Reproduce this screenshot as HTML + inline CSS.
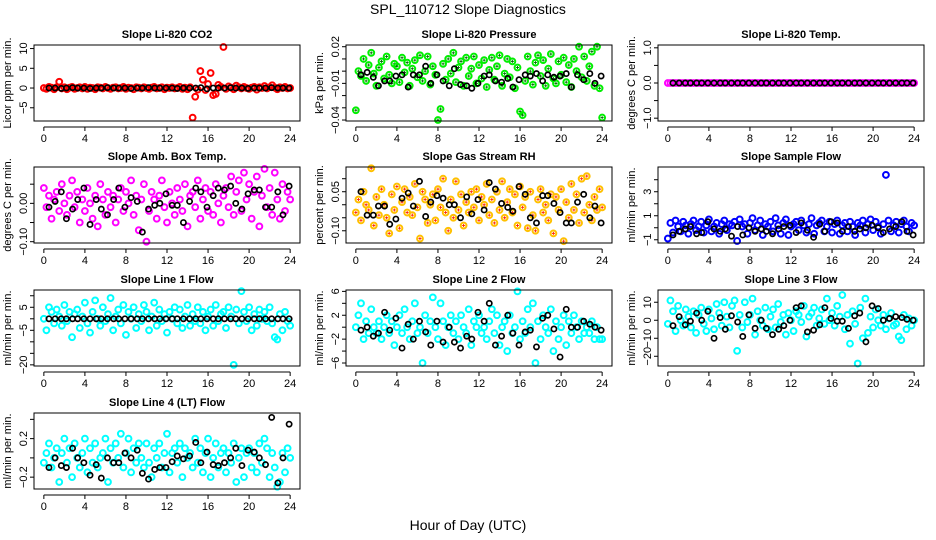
<!DOCTYPE html>
<html><head><meta charset="utf-8"><style>
html,body{margin:0;padding:0;background:#fff;}
svg{display:block;font-family:"Liberation Sans",sans-serif;}
</style></head><body>
<svg id="chart" width="936" height="540" viewBox="0 0 936 540">
<text x="468" y="14" font-size="14" text-anchor="middle">SPL_110712  Slope Diagnostics</text>
<text x="468" y="530" font-size="14" text-anchor="middle">Hour of Day (UTC)</text>
</svg>
<script>
const hours = [0,0.25,0.5,0.75,1,1.25,1.5,1.75,2,2.25,2.5,2.75,3,3.25,3.5,3.75,4,4.25,4.5,4.75,5,5.25,5.5,5.75,6,6.25,6.5,6.75,7,7.25,7.5,7.75,8,8.25,8.5,8.75,9,9.25,9.5,9.75,10,10.25,10.5,10.75,11,11.25,11.5,11.75,12,12.25,12.5,12.75,13,13.25,13.5,13.75,14,14.25,14.5,14.75,15,15.25,15.5,15.75,16,16.25,16.5,16.75,17,17.25,17.5,17.75,18,18.25,18.5,18.75,19,19.25,19.5,19.75,20,20.25,20.5,20.75,21,21.25,21.5,21.75,22,22.25,22.5,22.75,23,23.25,23.5,23.75,24];
const blackHours = [0.5,1.1,1.7,2.2,2.8,3.3,3.9,4.5,5.1,5.6,6.2,6.8,7.3,7.9,8.5,9.1,9.6,10.2,10.8,11.3,11.9,12.5,13.0,13.6,14.2,14.8,15.3,15.9,16.5,17.0,17.6,18.2,18.7,19.3,19.9,20.5,21.0,21.6,22.2,22.8,23.3,23.9];
const xTicks = [0,4,8,12,16,20,24];

const co2Vals = [0,-0.2,0.3,0.1,-0.3,0.2,1.6,-0.1,0.2,-0.3, 0.1,0.3,-0.2,0,0.2,-0.1,0.3,-0.2,0.1,0, -0.3,0.2,0.1,-0.1,0.3,0,-0.2,0.1,0.2,-0.1, 0,0.3,-0.2,0.1,0,-0.3,0.2,0.1,-0.1,0.2, 0,-0.2,0.1,0.3,-0.1,0,0.2,-0.3,0.1,0, 0.2,-0.1,0,0.3,-0.2,0.1,-0.3,0.2, -7.5,-2.2,-0.4,4.3,2.1,-0.5,1.0,3.8,-1.8,-1.5,0.8,0.3, 10.4,-0.2,0.4,0.1,-0.3,0.6,0.2,-0.1,0.3,0, -0.2,0.1,0.3,-0.4,0.2,0,0.5,-0.1,0.2,0.7, 0.1,-0.3,0.2,0,0.3,-0.1,0];
const co2Black = [0,0,-0.1,0,0.1,0,0,-0.1,0,0,0.1,0,0,0,-0.1,0,0,0.1,0,0,0,0,-0.1,0,0,0,0.1,-0.2,0,0,0,0.1,0,0,-0.1,0,0,0,0.1,0,0,0];
const pressureVals = [-32,0,-4,10,-8,5,15,-2,-12,3, 8,-6,12,-3,-10,6,4,-9,11,-1, 7,-12,2,9,-5,13,-8,0,12,-11, 4,-3,-40,-31,6,-7,10,-2,15,-9, 3,8,-12,11,-4,2,12,-10,5,-6, 9,-13,1,11,-7,4,13,-12,-2,10, -5,8,-14,3,-33,-36,-8,12,0,-11, 7,13,-4,9,-12,2,14,-6,-10,8, -3,11,-9,5,-13,10,0,20,-5,12, -8,4,16,-12,20,-14,-38].map(v => v / 1000);
const pressureBlack = [-3,-1,-5,-12,-8,-8,-4,-3,-13,-3,-3,4,-10,-3,-8,-12,2,-11,-12,-14,-10,-4,-3,-8,-9,-6,-13,-7,-3,-4,-2,-8,-3,-5,-4,-2,-13,-3,-7,-2,-10,-4].map(v => v / 1000);
const tempVals = [0,0,0,0,0,0,0,0,0,0,0,0,0,0,0,0,0,0,0,0,0,0,0,0,0,0,0,0,0,0,0,0,0,0,0,0,0,0,0,0,0,0,0,0,0,0,0,0,0,0,0,0,0,0,0,0,0,0,0,0,0,0,0,0,0,0,0,0,0,0,0,0,0,0,0,0,0,0,0,0,0,0,0,0,0,0,0,0,0,0,0,0,0,0,0,0,0];
const tempBlack = [0,0,0,0,0,0,0,0,0,0,0,0,0,0,0,0,0,0,0,0,0,0,0,0,0,0,0,0,0,0,0,0,0,0,0,0,0,0,0,0,0,0];
const ambVals = [40,-10,20,-40,10,30,-20,50,0,-30, 20,60,-10,30,-50,10,-20,40,0,-40, 20,-60,50,10,-30,30,-10,20,-50,10, 40,-20,30,0,60,-30,20,-70,10,50, -100,-20,30,10,-40,20,60,-10,-50,30, 0,-30,40,10,-20,50,-60,20,30,-10, 60,-40,10,40,-20,30,-30,50,0,-50, 20,40,-10,70,-30,30,60,-20,80,10, 50,-40,30,70,-60,20,90,-10,40,-30, 80,10,-40,50,-20,30,10].map(v => v / 1000);
const ambBlack = [-10,5,30,-40,-15,10,40,-55,10,-15,-30,10,40,-10,15,5,-75,-15,-5,0,25,-5,-5,-50,5,40,30,-10,20,40,35,45,0,-15,25,35,35,-10,-10,30,-30,45].map(v => v / 1000);
const rhVals = [-30,20,-60,50,0,-20,140,-80,30,-40, 60,0,-50,-110,40,-20,70,-90,10,60, -30,30,-40,80,-10,-130,50,20,-70,0, 40,-60,60,-10,100,-30,-100,20,-50,90, -20,40,-80,10,-30,50,-10,60,-60,30, 0,80,-40,20,-70,50,-20,90,-50,10, 60,-30,40,-80,70,-10,30,-90,50,-40, -100,20,60,-30,0,-60,40,-110,30,-20, 60,-140,10,-50,80,-20,40,-70,100,-30, 110,0,-60,30,-20,60,-10].map(v => v / 1000);
const rhBlack = [50,-40,-40,-5,-5,-75,-55,25,45,-5,90,-45,10,35,25,0,0,-50,30,-35,20,-20,85,60,5,-10,-25,70,40,-50,-70,35,35,5,-30,-70,-70,10,40,-50,-5,-70].map(v => v / 1000);
const sampleVals = [-0.9,0.4,-0.4,0.6,0.1,-0.3,0.5,0.2,-0.5,0.3, 0.6,-0.2,0.1,0.5,-0.4,0.2,0.7,-0.3,0.1,0.4, -0.5,0.3,0.6,-0.2,0.3,0.2,0.5,-1.1,0.7,0.1, 0.3,-0.5,0.4,0.8,-0.2,0.2,0.6,-0.6,0.3,0.1, 0.5,-0.3,0.8,0.2,-0.5,0.4,0.7,-0.6,0.1,0.3, 0.5,-0.2,0.6,0.2,-0.4,0.3,0.8,-0.5,0.2,0.4, 0.6,-0.3,0.1,0.5,-0.4,0.3,0.6,-0.5,0.2,0.4, -0.3,0.5,0.1,-0.6,0.4,0.2,0.6,-0.4,0.3,0.7, -0.2,0.5,0.1,-0.5,0.3,4.4,0.6,-0.3,0.2,0.5, -0.4,0.3,0.6,0.1,-0.3,0.4,0.2];
const sampleBlack = [-0.6,-0.3,-0.1,0.1,-0.5,-0.4,0.5,-0.1,-0.3,-0.1,-0.7,0.1,-0.6,0,-0.3,-0.1,-0.3,-0.5,-0.1,0.1,0.2,-0.4,0.4,-0.2,-0.8,0.3,-0.3,0.5,0.4,-0.3,0.1,-0.3,-0.1,0,0.2,0,-0.4,-0.1,0.1,0.5,-0.3,-0.6];
const line1Vals = [0,-5,5,3,-2,4,1,-3,6,-1, 3,-8,2,4,-4,1,7,-2,-6,3, 8,0,-3,5,-1,2,9,-5,1,4, -2,6,-7,3,0,5,-4,2,-1,6, 3,-5,1,7,-3,4,-1,2,-6,3, 0,5,-2,4,-4,1,6,-3,2,-1, 5,-2,3,-5,1,4,-3,6,-1,2, 3,-4,5,1,-20,4,-2,12,3,-1, 5,-5,2,-3,4,0,3,-1,5,-2, -8,-9,2,-5,3,-1,-3];
const line1Black = [0,0,0,0,0,0,0,0,0,0,0,0,0,0,0,0,0,0,0,0,0,0,0,0,0,0,0,0,0,0,0,0,0,0,0,0,0,0,0,0,0,0];
const line2Vals = [0,2,4,-2,1,-1,3,0,-1,1, -2,0,2,-1,1,-3,0,2,-1,3, 0,-2,1,4,-1,0,-6,2,-1,1, 5,0,-2,4,1,-3,0,2,-1,1, -2,2,0,-1,3,-3,1,0,2,-1, 0,-2,1,3,-1,2,-3,0,1,-4, 2,-1,0,6,-2,1,-1,3,0,4, -6,1,-2,2,0,-1,3,-4,1,-2, 0,2,-3,1,-1,2,0,-2,1,-1, 0,-1,1,-2,0,-2,-2];
const line2Black = [-0.5,0,-1.5,-1,2.5,-0.5,1.5,-3.5,0.5,-2,1,-0.8,-3,1,-2.5,0,-2.5,-3.5,-1.5,-2,2.5,1,4,-3,-1.5,2,-1,-3,-0.8,-0.5,-3.3,1.5,2,-0.3,-5,3,0,0,1,0.5,0,-0.5];
const line3Vals = [-2,11,5,-6,8,0,-3,6,2,-4, 5,-7,3,7,-2,-6,6,1,-5,9, 4,-3,10,2,-4,8,11,-17,3,-4, 10,-1,3,12,-8,5,0,-3,7,-5, 2,6,-4,9,-1,3,-8,4,0,-6, 5,3,-1,8,-9,2,4,7,-3,1, 6,-2,12,0,4,-3,8,2,14,-5, 3,-13,5,-2,-24,7,-10,12,-7,2, -4,6,0,-3,3,-5,1,4,-3,-2, -9,-11,3,-5,1,-3,0];
const line3Black = [-3,2,-2.5,-0.5,4,0,5,-10,1.5,-5,2.5,-1,-9,3,-4.5,0,-4.5,-8,-5,-3,0,7,8,-6.5,-5.5,-2.5,7,1,-0.5,-0.5,-4.5,2.5,4,-12,8,6.5,0,1,2,1.5,0.5,0];
const line4Vals = [-5,5,15,-10,0,10,-25,5,20,-5, 10,-20,15,0,-10,5,20,-15,10,-5, 15,-10,0,5,20,-25,10,-5,15,0, 25,-10,5,20,-15,10,-5,15,0,-10, 15,-5,-20,10,0,15,-10,5,25,-15, 5,10,-5,15,-20,10,0,5,-10,20, -5,10,-15,5,20,-20,0,15,-10,5, 10,-15,5,-5,15,-25,0,10,-20,5, 10,-10,5,-15,15,-5,20,10,-20,5, -10,-30,-25,5,-15,10,0].map(v => v / 100);
const line4Black = [-10,0,-8,-10,10,0,-5,-18,-7,-21,0,-5,-5,5,0,8,-16,-22,-12,-10,-10,-4,2,-1,2,16,-5,6,-7,-8,-5,0,10,-8,8,6,0,-7,42,-26,0,35].map(v => v / 100);

const panels = [
 {id:'co2', title:'Slope Li-820 CO2', ylab:'Licor ppm per min.', ylim:[-8.35,10.9], yTicks:[-5,0,5,10], yTickLabels:['−5','0','5','10'], vals:co2Vals, blk:co2Black, color:'#ff0000', plus:null},
 {id:'pressure', title:'Slope Li-820 Pressure', ylab:'kPa per min.', ylim:[-0.0408,0.0214], yTicks:[-0.04,-0.03,-0.02,-0.01,0,0.01,0.02], yTickLabels:['−0.04','','','−0.01','','','0.02'], vals:pressureVals, blk:pressureBlack, color:'#00ee00', plus:'#006600'},
 {id:'temp', title:'Slope Li-820 Temp.', ylab:'degrees C per min.', ylim:[-1.08,1.08], yTicks:[-1,-0.5,0,0.5,1], yTickLabels:['−1.0','','0.0','','1.0'], vals:tempVals, blk:tempBlack, color:'#ff00ff', plus:null},
 {id:'ambtemp', title:'Slope Amb. Box Temp.', ylab:'degrees C per min.', ylim:[-0.1034,0.0948], yTicks:[-0.1,-0.05,0,0.05], yTickLabels:['−0.10','','0.00',''], vals:ambVals, blk:ambBlack, color:'#ff00ff', plus:null},
 {id:'rh', title:'Slope Gas Stream RH', ylab:'percent per min.', ylim:[-0.147,0.145], yTicks:[-0.1,-0.05,0,0.05,0.1], yTickLabels:['−0.10','','','0.05',''], vals:rhVals, blk:rhBlack, color:'#ffc000', plus:'#ff2000'},
 {id:'sampleflow', title:'Slope Sample Flow', ylab:'ml/min per min.', ylim:[-1.27,5.06], yTicks:[-1,0,1,2,3,4], yTickLabels:['−1','','1','','3',''], vals:sampleVals, blk:sampleBlack, color:'#0000ff', plus:null},
 {id:'line1', title:'Slope Line 1 Flow', ylab:'ml/min per min.', ylim:[-20.5,12.5], yTicks:[-20,-15,-10,-5,0,5,10], yTickLabels:['−20','','','−5','','5',''], vals:line1Vals, blk:line1Black, color:'#00ffff', plus:null},
 {id:'line2', title:'Slope Line 2 Flow', ylab:'ml/min per min.', ylim:[-6.5,6.23], yTicks:[-6,-4,-2,0,2,4,6], yTickLabels:['−6','','−2','','2','','6'], vals:line2Vals, blk:line2Black, color:'#00ffff', plus:null},
 {id:'line3', title:'Slope Line 3 Flow', ylab:'ml/min per min.', ylim:[-25.4,16.8], yTicks:[-20,-10,0,10], yTickLabels:['−20','−10','0','10'], vals:line3Vals, blk:line3Black, color:'#00ffff', plus:null},
 {id:'line4', title:'Slope Line 4 (LT) Flow', ylab:'ml/min per min.', ylim:[-0.323,0.466], yTicks:[-0.2,0,0.2,0.4], yTickLabels:['−0.2','','0.2',''], vals:line4Vals, blk:line4Black, color:'#00ffff', plus:null}
];

const NS = 'http://www.w3.org/2000/svg';
const svg = document.getElementById('chart');
const colLeft = [34,346,658];
const rowTop = [45,167,290,413];
const W = 266, H = 76;
const XMIN = -0.96, XMAX = 24.96;

function mk(tag, attrs, parent) {
  const e = document.createElementNS(NS, tag);
  for (const k in attrs) e.setAttribute(k, attrs[k]);
  parent.appendChild(e);
  return e;
}

panels.forEach((p, idx) => {
  const x0 = colLeft[idx % 3], y0 = rowTop[Math.floor(idx / 3)];
  const g = mk('g', {}, svg);
  
  
  const xs = v => x0 + (v - XMIN) / (XMAX - XMIN) * W;
  const ys = v => y0 + H - (v - p.ylim[0]) / (p.ylim[1] - p.ylim[0]) * H;

  const t = mk('text', {x: x0 + W / 2, y: y0 - 7, 'font-size': 11, 'font-weight': 'bold', 'text-anchor': 'middle'}, g);
  t.textContent = p.title;
  
  

  const yl = mk('text', {x: 0, y: 0, 'font-size': 11, 'text-anchor': 'middle', transform: `translate(${x0 - 23},${y0 + H / 2}) rotate(-90)`}, g);
  yl.textContent = p.ylab;
  
  

  const pts = mk('g', {fill: 'none'}, g);
  
  
  const n = Math.min(hours.length, p.vals.length);
  for (let i = 0; i < n; i++) {
    const cx = xs(hours[i]), cy = ys(p.vals[i]);
    const c = mk('circle', {cx: cx, cy: cy, r: 2.9, stroke: p.color, 'stroke-width': 2}, pts);
    
    
    if (p.plus) {
      const pl = mk('path', {d: `M${cx-1.5},${cy}h3M${cx},${cy-1.5}v3`, stroke: p.plus, 'stroke-width': 0.9}, pts);
      
      
    }
  }
  const bpts = mk('g', {fill: 'none'}, g);
  
  
  const m = Math.min(blackHours.length, p.blk.length);
  for (let i = 0; i < m; i++) {
    const c = mk('circle', {cx: xs(blackHours[i]), cy: ys(p.blk[i]), r: 2.6, stroke: '#000', 'stroke-width': 1.7}, bpts);
    
    
  }

  const box = mk('rect', {x: x0, y: y0, width: W, height: H, fill: 'none', stroke: '#000', 'stroke-width': 1}, g);
  
  

  const xa = mk('g', {stroke: '#000', 'stroke-width': 1}, g);
  
  
  const ay = y0 + H + 6;
  mk('line', {x1: xs(xTicks[0]), x2: xs(xTicks[xTicks.length - 1]), y1: ay, y2: ay}, xa);
  xTicks.forEach(v => {
    mk('line', {x1: xs(v), x2: xs(v), y1: ay, y2: ay + 4}, xa);
    const tl = mk('text', {x: xs(v), y: ay + 15, 'font-size': 11, 'text-anchor': 'middle', stroke: 'none'}, xa);
    tl.textContent = v;
    
    
  });

  const ya = mk('g', {stroke: '#000', 'stroke-width': 1}, g);
  
  
  p.yTicks.forEach((v, i) => {
    const yy = ys(v);
    mk('line', {x1: x0 - 4, x2: x0, y1: yy, y2: yy}, ya);
    if (p.yTickLabels[i]) {
      const tl = mk('text', {x: 0, y: 0, 'font-size': 11, 'text-anchor': 'middle', stroke: 'none', transform: `translate(${x0 - 7},${yy}) rotate(-90)`}, ya);
      tl.textContent = p.yTickLabels[i];
      
      
    }
  });
});
</script>
</body></html>
